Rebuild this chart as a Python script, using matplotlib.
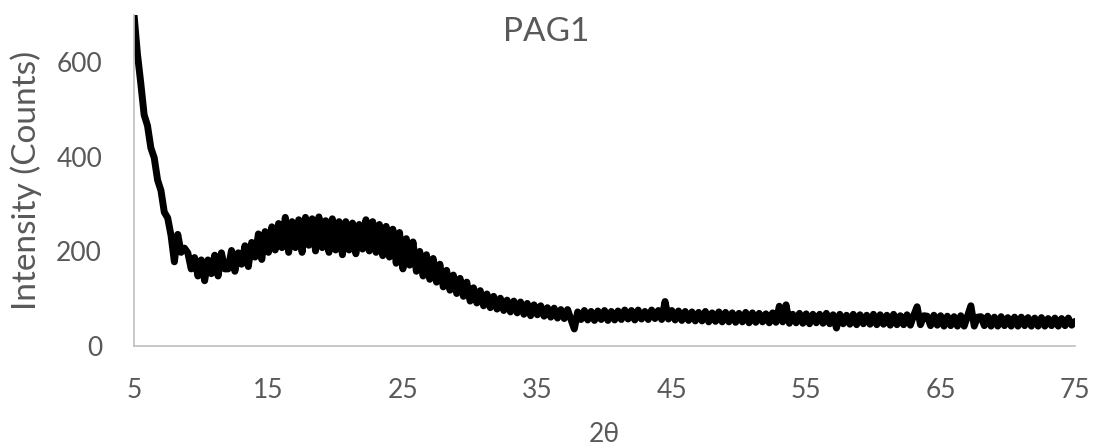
import numpy as np
import matplotlib
matplotlib.use("Agg")
import matplotlib.pyplot as plt

# 2-theta grid (degrees), 0.25 degree step from 5 to 75
two_theta_start = 5.0
two_theta_stop = 75.0
n_points = 281

# Intensity (counts), one row per degree (x = k, k+.25, k+.5, k+.75)
intensity = [
    700, 618, 556, 489,   # 5
    466, 419, 398, 351,   # 6
    329, 283, 271, 234,   # 7
    178, 236, 198, 207,   # 8
    197, 163, 187, 148,   # 9
    182, 138, 182, 153,   # 10
    192, 148, 197, 163,   # 11
    163, 202, 158, 197,   # 12
    173, 212, 168, 219,   # 13
    188, 237, 183, 242,   # 14
    198, 252, 203, 259,   # 15
    208, 272, 198, 263,   # 16
    208, 267, 198, 272,   # 17
    213, 269, 201, 273,   # 18
    208, 265, 198, 269,   # 19
    203, 263, 193, 263,   # 20
    203, 260, 195, 257,   # 21
    205, 267, 201, 263,   # 22
    198, 257, 191, 253,   # 23
    188, 247, 175, 240,   # 24
    163, 227, 171, 220,   # 25
    158, 200, 148, 193,   # 26
    141, 185, 135, 173,   # 27
    125, 160, 118, 150,   # 28
    111, 143, 105, 135,   # 29
    95, 123, 91, 117,     # 30
    85, 110, 81, 105,     # 31
    78, 101, 75, 97,      # 32
    72, 95, 70, 93,       # 33
    67, 90, 64, 87,       # 34
    66, 85, 63, 81,       # 35
    61, 80, 59, 77,       # 36
    58, 77, 56, 36,       # 37
    72, 56, 75, 55,       # 38
    73, 54, 74, 56,       # 39
    75, 54, 73, 55,       # 40
    74, 56, 76, 57,       # 41
    75, 55, 76, 57,       # 42
    73, 56, 76, 58,       # 43
    75, 56, 94, 57,       # 44
    75, 55, 74, 54,       # 45
    73, 54, 72, 53,       # 46
    71, 53, 73, 51,       # 47
    70, 52, 72, 51,       # 48
    71, 51, 70, 50,       # 49
    69, 51, 71, 49,       # 50
    70, 50, 69, 51,       # 51
    68, 49, 70, 50,       # 52
    84, 51, 87, 48,       # 53
    67, 49, 69, 48,       # 54
    68, 47, 67, 49,       # 55
    67, 48, 69, 47,       # 56
    66, 38, 67, 47,       # 57
    65, 46, 67, 45,       # 58
    66, 47, 65, 46,       # 59
    67, 45, 66, 46,       # 60
    65, 44, 67, 45,       # 61
    64, 45, 66, 44,       # 62
    65, 83, 45, 64,       # 63
    63, 43, 65, 44,       # 64
    64, 42, 63, 43,       # 65
    62, 42, 64, 42,       # 66
    63, 85, 42, 61,       # 67
    62, 43, 63, 42,       # 68
    61, 42, 62, 43,       # 69
    60, 42, 61, 42,       # 70
    61, 43, 60, 42,       # 71
    59, 42, 60, 42,       # 72
    58, 43, 59, 42,       # 73
    58, 43, 59, 44,       # 74
    52,                   # 75
]

x_ticks = [5, 15, 25, 35, 45, 55, 65, 75]
y_ticks = [0, 200, 400, 600]
title = "PAG1"
x_label = "2θ"
y_label = "Intensity (Counts)"

two_theta = np.linspace(two_theta_start, two_theta_stop, n_points)

plt.rcParams['font.family'] = ['Lato', 'DejaVu Sans']
text_color = '#595959'

fig = plt.figure(figsize=(10.97, 4.47), dpi=100)
ax = fig.add_axes([0.1222, 0.2260, 0.8578, 0.7404])

ax.plot(two_theta, intensity, color='black', linewidth=5.0,
        solid_joinstyle='round', solid_capstyle='round')

ax.set_xlim(5, 75)
ax.set_ylim(0, 700)
ax.set_xticks(x_ticks)
ax.set_yticks(y_ticks)
ax.tick_params(axis='both', length=0, labelsize=19, labelcolor=text_color)
ax.tick_params(axis='x', pad=23)
ax.tick_params(axis='y', pad=23)

for s in ['top', 'right']:
    ax.spines[s].set_visible(False)
for s in ['left', 'bottom']:
    ax.spines[s].set_color('#bfbfbf')
    ax.spines[s].set_linewidth(1.2)

ax.set_xlabel(x_label, fontsize=19, color=text_color, labelpad=14)
ax.set_ylabel(y_label, fontsize=24, color=text_color, labelpad=10)
fig.text(0.498, 0.928, title, fontsize=24, color=text_color, ha='center', va='center')

fig.savefig('out.png', dpi=100)
